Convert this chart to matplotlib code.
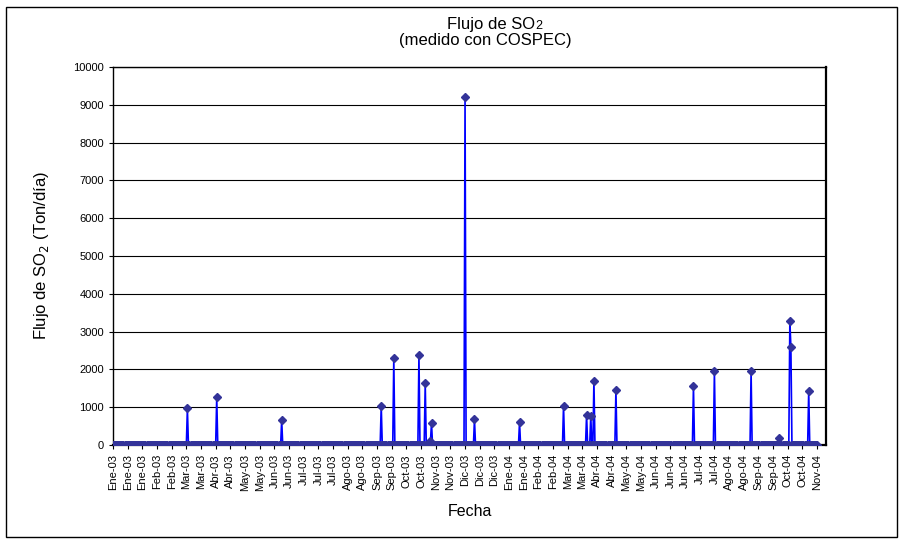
import numpy as np
import pandas as pd
import matplotlib
matplotlib.use("Agg")
import matplotlib.pyplot as plt
from matplotlib.patches import Rectangle

plt.rcParams['font.family'] = ['Liberation Sans', 'DejaVu Sans']

# daily series: days with no measurement are plotted as 0
start_date = "2003-01-01"
end_date = "2004-11-03"

# non-zero readings (Ton/dia)
spike_dates = ["2003-03-13", "2003-04-10", "2003-06-11", "2003-09-14", "2003-09-26",
               "2003-10-20", "2003-10-26", "2003-10-31", "2003-11-01", "2003-12-03",
               "2003-12-12", "2004-01-24", "2004-03-06", "2004-03-28", "2004-04-01",
               "2004-04-04", "2004-04-25", "2004-07-08", "2004-07-28", "2004-09-01",
               "2004-09-28", "2004-10-08", "2004-10-09", "2004-10-26"]
spike_values = [970, 1260, 660, 1040, 2300,
                2380, 1630, 110, 580, 9200,
                680, 610, 1040, 800, 770,
                1700, 1455, 1560, 1950, 1950,
                175, 3280, 2585, 1430]

month_abbr = ["Ene", "Feb", "Mar", "Abr", "May", "Jun",
              "Jul", "Ago", "Sep", "Oct", "Nov", "Dic"]

dates = pd.date_range(start_date, end_date, freq="D")
flux = pd.Series(0.0, index=dates)
flux[pd.to_datetime(spike_dates)] = spike_values

fig = plt.figure(figsize=(9.01, 5.44), dpi=100)
fig.patches.append(Rectangle((6 / 901, 7 / 544), 891 / 901, 530 / 544, transform=fig.transFigure,
                             fill=False, edgecolor="black", linewidth=1.0))

ax = fig.add_axes([113 / 901, 1 - 445 / 544, 713 / 901, 378 / 544])
ax.plot(flux.index, flux.values, color="#0000ff", linewidth=1.2, zorder=3,
        marker="D", markersize=4.5, markerfacecolor="#333399", markeredgecolor="#333399")

x0 = pd.Timestamp(start_date)
ax.set_xlim(x0, x0 + pd.Timedelta(days=680.5))
ax.set_ylim(0, 10000)
ax.set_yticks(np.arange(0, 10001, 1000))
ax.yaxis.grid(True, color="black", linewidth=0.8)
ax.set_axisbelow(True)

tick_dates = pd.date_range(start_date, periods=49, freq="14D")
ax.set_xticks(tick_dates)
ax.set_xticklabels([f"{month_abbr[d.month - 1]}-{d.strftime('%y')}" for d in tick_dates],
                   rotation=90, fontsize=8)
ax.tick_params(axis="y", labelsize=8, length=3)
ax.tick_params(axis="x", length=3)

for s in ax.spines.values():
    s.set_color("black")
    s.set_linewidth(1.0)
ax.spines["right"].set_linewidth(1.6)
ax.spines["bottom"].set_linewidth(1.6)

ax.set_xlabel("Fecha", fontsize=11.5, labelpad=9)
ax.set_ylabel("Flujo de SO$_2$ (Ton/día)", fontsize=12, labelpad=16)
fig.text(535 / 901, 1 - 24 / 544, "Flujo de SO", ha="right", va="center", fontsize=12)
fig.text(535 / 901, 1 - 26 / 544, "2", ha="left", va="center", fontsize=9)
fig.text(485 / 901, 1 - 41 / 544, "(medido con COSPEC)", ha="center", va="center", fontsize=12)

fig.savefig("out.png", dpi=100)
